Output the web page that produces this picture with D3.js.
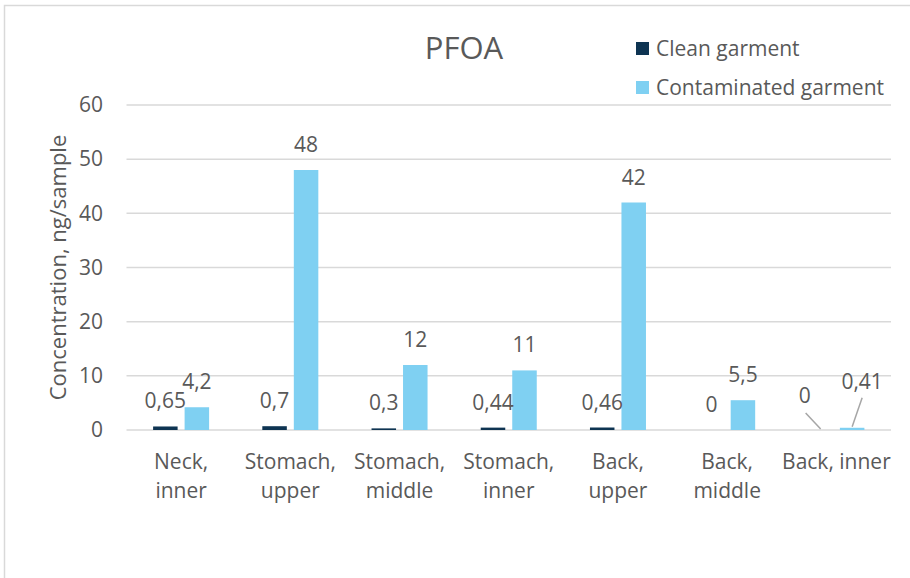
<!DOCTYPE html>
<html>
<head>
<meta charset="utf-8">
<script src="https://cdn.jsdelivr.net/npm/d3@7"></script>
<style>
  body { margin: 0; background: #fff; }
  text { font-family: "Open Sans", sans-serif; fill: #595959; }
</style>
</head>
<body>
<div id="chart"></div>
<script>
// chart data
var categories = [["Neck,", "inner"], ["Stomach,", "upper"], ["Stomach,", "middle"],
                  ["Stomach,", "inner"], ["Back,", "upper"], ["Back,", "middle"], ["Back, inner"]];
var seriesNames = ["Clean garment", "Contaminated garment"];
var cleanValues = [0.65, 0.7, 0.3, 0.44, 0.46, 0, 0];
var contaminatedValues = [4.2, 48, 12, 11, 42, 5.5, 0.41];
var yTicks = [0, 10, 20, 30, 40, 50, 60];

var colors = ["#0E3452", "#7FD0F2"];

var drawChart = function(){
    const width = 910, height = 578;
    var margin = {left: 126.5, right: 19, top: 105, bottom: 148};

    var svg = d3.select("#chart").append("svg")
        .attr("width", width)
        .attr("height", height);

    // chart area border (right and bottom edges fall outside the picture)
    svg.append("rect")
        .attr("x", 4.5).attr("y", 5.5)
        .attr("width", 920).attr("height", 600)
        .attr("fill", "none")
        .attr("stroke", "#D9D9D9")
        .attr("stroke-width", 1.5);

    var y = d3.scaleLinear()
        .domain([0, 60])
        .range([height - margin.bottom, margin.top]);

    var x0 = d3.scaleBand()
        .domain(d3.range(categories.length))
        .range([margin.left, width - margin.right]);

    var half = 31.5;
    var x1 = d3.scaleBand()
        .domain([0, 1])
        .range([x0.bandwidth() / 2 - half, x0.bandwidth() / 2 + half])
        .paddingInner(0.222)
        .paddingOuter(0.111);

    // gridlines
    svg.append("g").selectAll("line")
        .data(yTicks)
        .enter().append("line")
        .attr("x1", margin.left).attr("x2", width - margin.right)
        .attr("y1", function(d){ return y(d); })
        .attr("y2", function(d){ return y(d); })
        .attr("stroke", "#D9D9D9")
        .attr("stroke-width", 1.5);

    // y axis labels
    var yAxis = d3.axisLeft(y).tickValues(yTicks).tickSize(0).tickPadding(0);
    var ga = svg.append("g")
        .attr("transform", "translate(103,0)")
        .call(yAxis);
    ga.select(".domain").remove();
    ga.selectAll("text")
        .attr("font-size", 21)
        .attr("font-family", "Open Sans")
        .attr("fill", "#595959");

    svg.append("text")
        .attr("transform", "translate(66," + y(30) + ") rotate(-90)")
        .attr("text-anchor", "middle")
        .attr("font-size", 22)
        .text("Concentration, ng/sample");

    // bars
    var series = [cleanValues, contaminatedValues];
    var rows = [];
    series.forEach(function(vals, s){
        vals.forEach(function(v, i){ rows.push({s: s, i: i, v: v}); });
    });

    svg.append("g").selectAll("rect")
        .data(rows)
        .enter().append("rect")
        .attr("x", function(d){ return x0(d.i) + x1(d.s); })
        .attr("y", function(d){ return y(d.v); })
        .attr("width", x1.bandwidth())
        .attr("height", function(d){ return y(0) - y(d.v); })
        .attr("fill", function(d){ return colors[d.s]; });

    // data labels; the two on "Back, inner" are moved aside with leader lines
    var moved = {"0-6": [-16, -9], "1-6": [10, -21]};
    function lx(d){ var m = moved[d.s + "-" + d.i]; return x0(d.i) + x1(d.s) + x1.bandwidth() / 2 + (m ? m[0] : 0); }
    function ly(d){ var m = moved[d.s + "-" + d.i]; return y(d.v) - 18 + (m ? m[1] : 0); }

    svg.append("g").selectAll("text")
        .data(rows)
        .enter().append("text")
        .attr("x", lx)
        .attr("y", ly)
        .attr("text-anchor", "middle")
        .attr("font-size", 21)
        .text(function(d){ return String(d.v).replace(".", ","); });

    svg.append("g").selectAll("line")
        .data(rows.filter(function(d){ return moved[d.s + "-" + d.i]; }))
        .enter().append("line")
        .attr("x1", function(d){ return lx(d) + (d.s === 0 ? 1 : 0); })
        .attr("y1", function(d){ return ly(d) + (d.s === 0 ? 10 : 9); })
        .attr("x2", function(d){ return x0(d.i) + x1(d.s) + x1.bandwidth() / 2; })
        .attr("y2", function(d){ return y(d.v) - 1; })
        .attr("stroke", "#A6A6A6")
        .attr("stroke-width", 1.5);

    // category labels
    var cat = svg.append("g").selectAll("text")
        .data(categories)
        .enter().append("text")
        .attr("text-anchor", "middle")
        .attr("font-size", 21)
        .attr("x", function(d, i){ return x0(i) + x0.bandwidth() / 2; })
        .attr("y", 469);
    cat.selectAll("tspan")
        .data(function(d){ return d; })
        .enter().append("tspan")
        .attr("x", function(){ return d3.select(this.parentNode).attr("x"); })
        .attr("dy", function(d, j){ return j === 0 ? 0 : 29; })
        .text(function(d){ return d; });

    // title
    svg.append("text")
        .attr("x", 464).attr("y", 59)
        .attr("text-anchor", "middle")
        .attr("font-size", 31)
        .text("PFOA");

    // legend
    var legend = svg.append("g").selectAll("g")
        .data(seriesNames)
        .enter().append("g")
        .attr("transform", function(d, i){ return "translate(636," + (42 + i * 39) + ")"; });
    legend.append("rect")
        .attr("width", 13).attr("height", 13)
        .attr("fill", function(d, i){ return colors[i]; });
    legend.append("text")
        .attr("x", 20).attr("y", 13.5)
        .attr("font-size", 21)
        .text(function(d){ return d; });
}

drawChart();
</script>
</body>
</html>
